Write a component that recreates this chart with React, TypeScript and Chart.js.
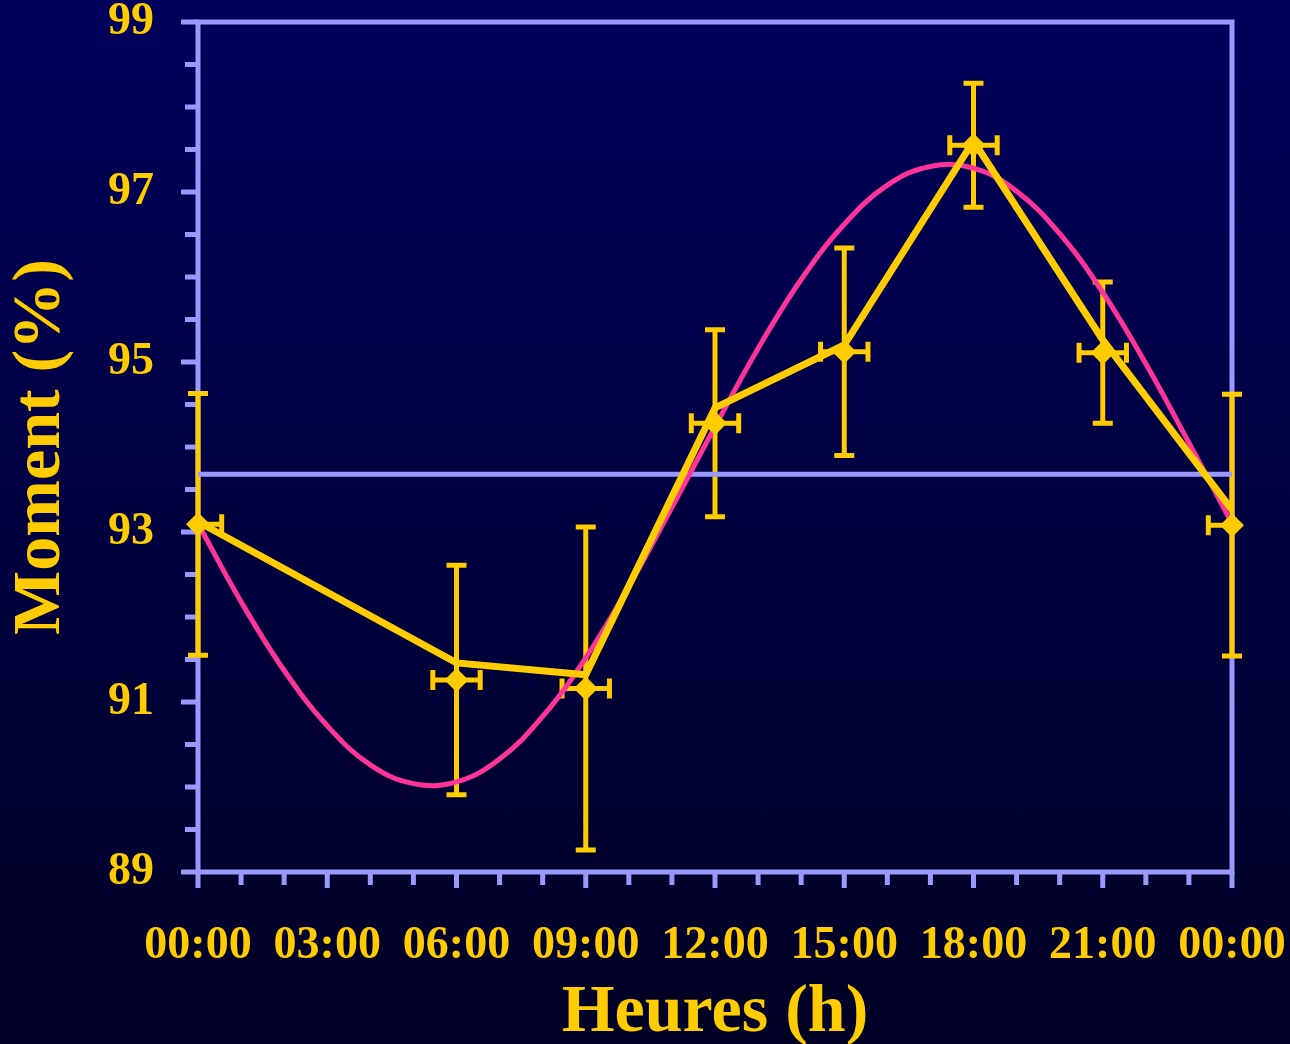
import React, { useEffect, useRef } from "react";
import { Chart, registerables } from "chart.js";

Chart.register(...registerables);

// ---- data ----
const hours = [0, 6, 9, 12, 15, 18, 21, 24];
const meanValues = [93.09, 91.26, 91.16, 94.28, 95.12, 97.55, 95.11, 93.08];
const semValues = [1.54, 1.35, 1.9, 1.1, 1.22, 0.73, 0.83, 1.54];
const hourErrMinus = [0, 0.55, 0.55, 0.55, 0.55, 0.55, 0.55, 0.55];
const hourErrPlus = [0.55, 0.55, 0.55, 0.55, 0.55, 0.55, 0.55, 0];
const lineValues = [93.12, 91.46, 91.32, 94.46, 95.2, 97.6, 95.26, 93.26];
const fitHours = [0, 1, 2, 3, 4, 5, 6, 7, 8, 9, 10, 11, 12, 13, 14, 15, 16, 17, 18, 19, 20, 21, 22, 23, 24];
const fitValues = [
  93.1, 92.18, 91.37, 90.72, 90.26, 90.04, 90.06, 90.33, 90.83, 91.52, 92.36, 93.29, 94.24,
  95.16, 95.97, 96.62, 97.08, 97.3, 97.28, 97.01, 96.51, 95.82, 94.98, 94.05, 93.1,
];
const mesorValue = 93.68;
const xTickLabels = ["00:00", "03:00", "06:00", "09:00", "12:00", "15:00", "18:00", "21:00", "00:00"];
const yMin = 89;
const yMax = 99;
const xMin = 0;
const xMax = 24;

// ---- styles ----
const YELLOW = "#ffcc00";
const AXIS = "#9999ff";
const PINK = "#ff3399";
const FONT = "'Liberation Serif', 'Times New Roman', serif";

const axesPlugin = {
  id: "axesAndErrors",
  beforeDatasetsDraw(chart: any) {
    const { ctx, chartArea: a, scales } = chart;
    const x = scales.x;
    const y = scales.y;
    ctx.save();
    ctx.lineCap = "butt";
    // frame
    ctx.strokeStyle = AXIS;
    ctx.lineWidth = 5;
    ctx.strokeRect(a.left, a.top, a.right - a.left, a.bottom - a.top);
    // y ticks
    ctx.lineWidth = 5;
    for (let v = yMin; v <= yMax + 1e-9; v += 0.5) {
      const py = y.getPixelForValue(v);
      const major = Math.abs(v - Math.round(v)) < 1e-9 && Math.round(v) % 2 === 1;
      const len = major ? 17 : 13;
      ctx.beginPath();
      ctx.moveTo(a.left - len, py);
      ctx.lineTo(a.left, py);
      ctx.stroke();
    }
    // x ticks
    for (let h = xMin; h <= xMax; h += 1) {
      const px = x.getPixelForValue(h);
      const len = h % 3 === 0 ? 16 : 13;
      ctx.beginPath();
      ctx.moveTo(px, a.bottom);
      ctx.lineTo(px, a.bottom + len);
      ctx.stroke();
    }
    // error bars
    ctx.strokeStyle = YELLOW;
    ctx.lineWidth = 5;
    const cap = 10;
    hours.forEach((h, i) => {
      const px = x.getPixelForValue(h);
      const py = y.getPixelForValue(meanValues[i]);
      const top = y.getPixelForValue(meanValues[i] + semValues[i]);
      const bot = y.getPixelForValue(meanValues[i] - semValues[i]);
      ctx.beginPath();
      ctx.moveTo(px, top);
      ctx.lineTo(px, bot);
      ctx.moveTo(px - cap, top);
      ctx.lineTo(px + cap, top);
      ctx.moveTo(px - cap, bot);
      ctx.lineTo(px + cap, bot);
      if (hourErrMinus[i] > 0) {
        const xl = x.getPixelForValue(h - hourErrMinus[i]);
        ctx.moveTo(px, py);
        ctx.lineTo(xl, py);
        ctx.moveTo(xl, py - cap);
        ctx.lineTo(xl, py + cap);
      }
      if (hourErrPlus[i] > 0) {
        const xr = x.getPixelForValue(h + hourErrPlus[i]);
        ctx.moveTo(px, py);
        ctx.lineTo(xr, py);
        ctx.moveTo(xr, py - cap);
        ctx.lineTo(xr, py + cap);
      }
      ctx.stroke();
    });
    ctx.restore();
  },
};

export default function App() {
  const ref = useRef<HTMLCanvasElement | null>(null);

  useEffect(() => {
    if (!ref.current) return;
    const chart = new Chart(ref.current, {
      type: "line",
      data: {
        datasets: [
          {
            label: "markers",
            data: hours.map((h, i) => ({ x: h, y: meanValues[i] })),
            showLine: false,
            pointStyle: "rectRot",
            pointRadius: 12,
            pointBackgroundColor: YELLOW,
            pointBorderWidth: 0,
            clip: false as any,
          },
          {
            label: "mean",
            data: hours.map((h, i) => ({ x: h, y: lineValues[i] })),
            borderColor: YELLOW,
            borderWidth: 7,
            borderJoinStyle: "miter",
            pointRadius: 0,
            tension: 0,
            clip: false as any,
          },
          {
            label: "fit",
            data: fitHours.map((h, i) => ({ x: h, y: fitValues[i] })),
            borderColor: PINK,
            borderWidth: 5,
            pointRadius: 0,
            tension: 0.4,
          },
          {
            label: "mesor",
            data: [
              { x: xMin, y: mesorValue },
              { x: xMax, y: mesorValue },
            ],
            borderColor: AXIS,
            borderWidth: 5,
            pointRadius: 0,
          },
        ],
      },
      options: {
        animation: false,
        responsive: false,
        layout: { padding: { top: 22, right: 58, left: 0, bottom: 0 } },
        plugins: { legend: { display: false }, tooltip: { enabled: false } },
        scales: {
          x: {
            type: "linear",
            min: xMin,
            max: xMax,
            grid: { display: false },
            border: { display: false },
            ticks: {
              stepSize: 3,
              autoSkip: false,
              maxRotation: 0,
              padding: 43,
              color: YELLOW,
              font: { family: FONT, size: 46, weight: "bold", lineHeight: 1 },
              callback: (v: any) => xTickLabels[Math.round(Number(v) / 3)] ?? "",
            },
            title: {
              display: true,
              text: "Heures (h)",
              color: YELLOW,
              padding: 0,
              font: { family: FONT, size: 68, weight: "bold", lineHeight: 0.9 },
            },
            afterFit: (s: any) => {
              s.height = 172;
              s.paddingLeft = 0;
              s.paddingRight = 0;
              s.paddingTop = 0;
              s.paddingBottom = 0;
            },
          },
          y: {
            type: "linear",
            min: yMin,
            max: yMax,
            grid: { display: false },
            border: { display: false },
            ticks: {
              stepSize: 2,
              autoSkip: false,
              padding: 36,
              color: YELLOW,
              font: { family: FONT, size: 46, weight: "bold", lineHeight: 1 },
              callback: (v: any) => String(v),
            },
            title: {
              display: true,
              text: "Moment (%)",
              color: YELLOW,
              padding: { top: 7, bottom: 0 },
              font: { family: FONT, size: 68, weight: "bold", lineHeight: 1 },
            },
            afterFit: (s: any) => {
              s.width = 198;
              s.paddingLeft = 0;
              s.paddingRight = 0;
              s.paddingTop = 0;
              s.paddingBottom = 0;
            },
          },
        },
      } as any,
      plugins: [axesPlugin],
    });
    return () => chart.destroy();
  }, []);

  return (
    <div
      style={{
        position: "fixed",
        left: 0,
        top: 0,
        width: 1290,
        height: 1044,
        background: "linear-gradient(to bottom, #00005c 0%, #000040 50%, #000024 100%)",
      }}
    >
      <canvas ref={ref} width={1290} height={1044} style={{ display: "block" }} />
    </div>
  );
}
